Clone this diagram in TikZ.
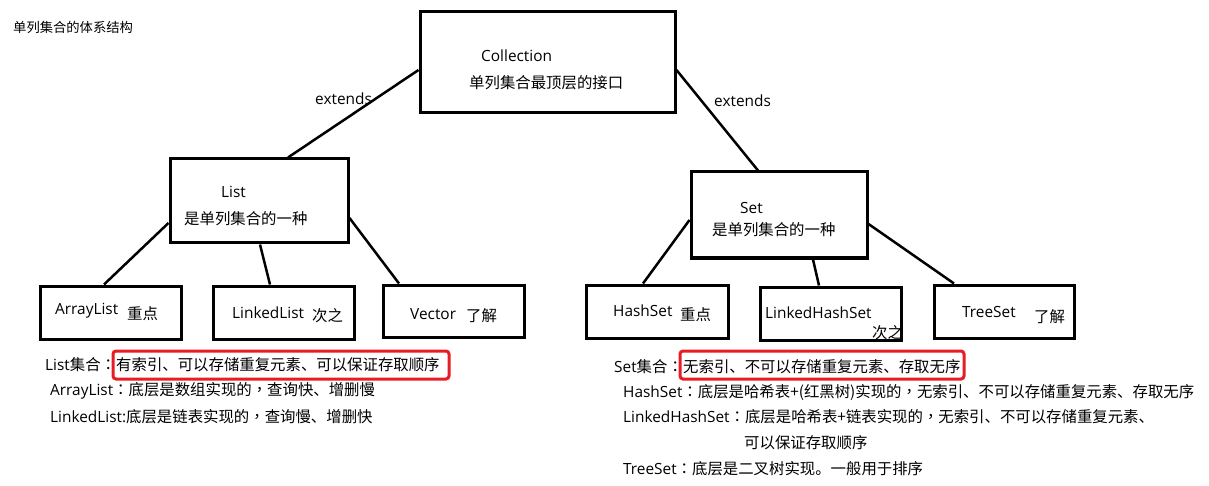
\documentclass[tikz,border=0pt]{standalone}
\usepackage{fontspec}
\setmainfont{Noto Sans CJK SC}
\newfontfamily\lat{Open Sans}
\newfontfamily\tcfont{Noto Sans CJK TC}
\newcommand\fwcolon{{\tcfont ：}}
\newcommand\fwcomma{{\tcfont ，}}
\usetikzlibrary{calc}
\definecolor{hlred}{RGB}{232,28,36}
\begin{document}
\begin{tikzpicture}[x=1pt,y=-1pt,
  box/.style={draw=black,line width=3pt,minimum width=#1,inner sep=0pt},
  conn/.style={draw=black,line width=2.5pt},
  txt/.style={inner sep=0pt,anchor=base west,font=\fontsize{15.4}{18}\selectfont},
  redbox/.style={draw=hlred,line width=3pt,rounded corners=3pt,inner sep=0pt}]
\useasboundingbox (0,0) rectangle (1209,486);
% title
\node[txt,font=\fontsize{13.3}{16}\selectfont] (title) at (13,33) {单列集合的体系结构};
% boxes
\node[box=255pt,minimum height=101pt] (coll) at (547.5,62.5) {};
\node[box=178pt,minimum height=84pt] (list) at (259,201) {};
\node[box=176pt,minimum height=86pt] (set) at (779,215) {};
\node[box=141pt,minimum height=53pt] (al) at (110.5,312.5) {};
\node[box=141pt,minimum height=53pt] (ll) at (283.5,312.5) {};
\node[box=141pt,minimum height=52pt] (vec) at (453.5,311) {};
\node[box=142pt,minimum height=53pt] (hs) at (657,311.5) {};
\node[box=141pt,minimum height=53pt] (lhs) at (830.5,313.5) {};
\node[box=140pt,minimum height=53pt] (ts) at (1004,311.5) {};
% connectors
\draw[conn] ([yshift=-7.5pt]coll.west) -- ([xshift=29pt]list.north);
\draw[conn] ([yshift=-7.5pt]coll.east) -- ([xshift=-21pt]set.north);
\draw[conn] ([yshift=-22pt]list.west) -- ([xshift=-6.5pt]al.north);
\draw[conn] ([xshift=1pt]list.south) -- ([xshift=-13.5pt]ll.north);
\draw[conn] ([yshift=-17pt]list.east) -- ([xshift=-54.5pt]vec.north);
\draw[conn] ([yshift=-5pt]set.west) -- ([xshift=-14pt]hs.north);
\draw[conn] ([xshift=34pt]set.south) -- ([xshift=-11.5pt]lhs.north);
\draw[conn] ([yshift=-9pt]set.east) -- ([xshift=-50pt]ts.north);
% box texts
\node[txt] (tcoll) at (481,61.5) {\lat Collection};
\node[txt] (tcoll2) at (469,88.5) {单列集合最顶层的接口};
\node[txt] (ext1) at (315,105) {\lat extends};
\node[txt] (ext2) at (714,107) {\lat extends};
\node[txt] (tlist) at (221,197.5) {\lat List};
\node[txt] (tlist2) at (184,224.5) {是单列集合的一种};
\node[txt] (tset) at (740,213.5) {\lat Set};
\node[txt] (tset2) at (712,235.5) {是单列集合的一种};
\node[txt] (tal) at (55,314.5) {\lat ArrayList};
\node[txt] (tal2) at (127,319.5) {重点};
\node[txt] (tll) at (232,318.5) {\lat LinkedList};
\node[txt] (tll2) at (312,321.5) {次之};
\node[txt] (tvec) at (410,319.5) {\lat Vector};
\node[txt] (tvec2) at (466,321.5) {了解};
\node[txt] (ths) at (613,316.5) {\lat HashSet};
\node[txt] (ths2) at (680,320.5) {重点};
\node[txt] (tlhs) at (765,318.5) {\lat LinkedHashSet};
\node[txt] (tlhs2) at (872,338.5) {次之};
\node[txt] (tts) at (962,317.5) {\lat TreeSet};
\node[txt] (tts2) at (1034,322.5) {了解};
% red highlight boxes
\node[redbox,minimum width=336pt,minimum height=28pt] (redL) at (281,365) {};
\node[redbox,minimum width=284pt,minimum height=28pt] (redS) at (822,365) {};
% description texts
\node[txt] (dl0) at (45,370.5) {{\lat List}集合\fwcolon};
\node[txt] (dl0b) at (116,370.5) {有索引、可以存储重复元素、可以保证存取顺序};
\node[txt] (dl1) at (50,395.5) {{\lat ArrayList}\fwcolon 底层是数组实现的\fwcomma 查询快、增删慢};
\node[txt] (dl2) at (50,422.5) {{\lat LinkedList:}底层是链表实现的\fwcomma 查询慢、增删快};
\node[txt] (ds0) at (614,372.5) {{\lat Set}集合\fwcolon};
\node[txt] (ds0b) at (683,372.5) {无索引、不可以存储重复元素、存取无序};
\node[txt] (ds1) at (623,397.5) {{\lat HashSet}\fwcolon 底层是哈希表+(红黑树)实现的\fwcomma 无索引、不可以存储重复元素、存取无序};
\node[txt] (ds2) at (623,422.5) {{\lat LinkedHashSet}\fwcolon 底层是哈希表+链表实现的\fwcomma 无索引、不可以存储重复元素、};
\node[txt] (ds3) at (744,448.5) {可以保证存取顺序};
\node[txt] (ds4) at (623,474.5) {{\lat TreeSet}\fwcolon 底层是二叉树实现。一般用于排序};
\end{tikzpicture}
\end{document}
